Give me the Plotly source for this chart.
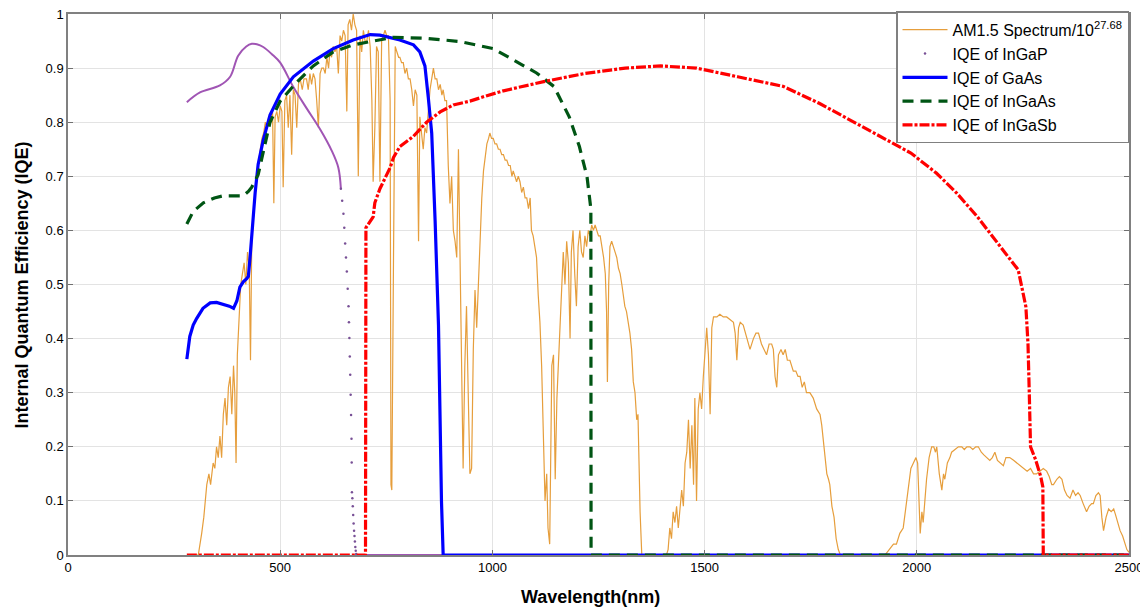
import plotly.graph_objects as go

# ---------------- data ----------------
am15_wl = [300, 307, 315, 320, 327, 332, 336, 342, 346, 350, 354, 358, 362, 366, 370, 374, 378, 382, 386, 390,
           393, 396, 399, 403, 407, 411, 415, 419, 423, 427, 430, 433, 437, 441, 445, 449, 453, 457, 461, 465,
           469, 473, 478, 482, 485, 488, 492, 496, 500, 504, 507, 511, 515, 519, 523, 527, 531, 535, 539, 543,
           547, 552, 556, 562, 566, 570, 574, 578, 582, 586, 590, 594, 598, 602, 606, 610, 614, 617, 621, 625,
           629, 633, 637, 641, 645, 649, 653, 657, 660, 664, 668, 672, 676, 680, 684, 688, 692, 696, 700, 704,
           708, 712, 716, 719, 723, 727, 731, 735, 739, 743, 747, 751, 755, 759, 761, 763, 765, 767, 771, 775,
           779, 782, 786, 790, 794, 798, 802, 806, 810, 814, 818, 822, 826, 829, 833, 837, 841, 845, 849, 853,
           857, 861, 865, 869, 873, 877, 881, 884, 888, 892, 896, 900, 904, 908, 912, 916, 920, 924, 927, 931,
           935, 939, 943, 947, 951, 955, 959, 963, 967, 971, 975, 979, 983, 987, 991, 994, 998, 1002, 1006, 1010,
           1014, 1018, 1022, 1026, 1030, 1034, 1038, 1042, 1046, 1049, 1053, 1057, 1061, 1065, 1069, 1073, 1077, 1081, 1085, 1089,
           1092, 1096, 1100, 1104, 1108, 1112, 1116, 1120, 1124, 1128, 1131, 1135, 1138, 1140, 1144, 1148, 1152, 1155, 1159, 1163,
           1167, 1171, 1175, 1179, 1183, 1186, 1190, 1194, 1198, 1202, 1206, 1210, 1214, 1218, 1222, 1226, 1230, 1234, 1238, 1242,
           1246, 1250, 1254, 1258, 1262, 1266, 1269, 1271, 1274, 1277, 1281, 1285, 1289, 1293, 1297, 1301, 1305, 1309, 1312, 1316,
           1320, 1324, 1328, 1332, 1336, 1340, 1343, 1346, 1348, 1352, 1410, 1414, 1418, 1422, 1426, 1430, 1434, 1438, 1442, 1446,
           1450, 1454, 1458, 1462, 1466, 1470, 1474, 1477, 1481, 1485, 1489, 1493, 1497, 1501, 1505, 1509, 1513, 1517, 1521, 1525,
           1529, 1536, 1544, 1552, 1560, 1568, 1572, 1576, 1580, 1584, 1591, 1599, 1607, 1615, 1621, 1627, 1634, 1640, 1646, 1652,
           1658, 1662, 1666, 1670, 1674, 1680, 1685, 1690, 1695, 1701, 1705, 1709, 1715, 1720, 1725, 1730, 1735, 1740, 1748, 1756,
           1764, 1772, 1776, 1780, 1784, 1788, 1792, 1795, 1800, 1805, 1810, 1815, 1820, 1925, 1935, 1945, 1952, 1960, 1968, 1974,
           1980, 1986, 1992, 1998, 2002, 2005, 2008, 2012, 2015, 2019, 2023, 2029, 2035, 2040, 2044, 2047, 2053, 2059, 2063, 2066,
           2072, 2078, 2082, 2090, 2098, 2106, 2112, 2118, 2125, 2132, 2139, 2145, 2152, 2158, 2165, 2172, 2178, 2184, 2190, 2196,
           2204, 2210, 2219, 2228, 2236, 2244, 2251, 2260, 2268, 2275, 2282, 2290, 2298, 2306, 2312, 2318, 2322, 2330, 2336, 2342,
           2348, 2354, 2361, 2368, 2374, 2380, 2385, 2392, 2400, 2406, 2412, 2416, 2422, 2428, 2432, 2436, 2440, 2446, 2452, 2458,
           2464, 2468, 2474, 2479, 2485, 2490, 2495, 2500]
am15_val = [0.0, 0.0, 0.04, 0.07, 0.13, 0.15, 0.13, 0.17, 0.16, 0.20, 0.18, 0.22, 0.18, 0.26, 0.29, 0.24, 0.31, 0.33, 0.26, 0.35,
            0.30, 0.17, 0.37, 0.45, 0.50, 0.52, 0.54, 0.50, 0.56, 0.53, 0.36, 0.58, 0.63, 0.67, 0.70, 0.73, 0.75, 0.77, 0.78, 0.80,
            0.79, 0.81, 0.80, 0.82, 0.65, 0.81, 0.82, 0.80, 0.83, 0.82, 0.68, 0.84, 0.85, 0.79, 0.85, 0.74, 0.86, 0.85, 0.79, 0.87,
            0.88, 0.86, 0.88, 0.88, 0.86, 0.89, 0.87, 0.89, 0.88, 0.84, 0.79, 0.89, 0.90, 0.90, 0.89, 0.92, 0.90, 0.93, 0.92, 0.94,
            0.93, 0.94, 0.89, 0.96, 0.95, 0.97, 0.96, 0.82, 0.98, 0.99, 0.97, 1.00, 0.98, 0.97, 0.70, 0.96, 0.93, 0.97, 0.95, 0.95,
            0.97, 0.94, 0.84, 0.69, 0.79, 0.94, 0.93, 0.69, 0.95, 0.96, 0.97, 0.96, 0.96, 0.84, 0.13, 0.12, 0.45, 0.55, 0.94, 0.93,
            0.92, 0.92, 0.91, 0.91, 0.89, 0.90, 0.88, 0.88, 0.86, 0.83, 0.86, 0.85, 0.58, 0.81, 0.78, 0.75, 0.79, 0.78, 0.82, 0.86,
            0.88, 0.90, 0.88, 0.88, 0.86, 0.87, 0.85, 0.86, 0.84, 0.84, 0.72, 0.65, 0.70, 0.60, 0.58, 0.55, 0.75, 0.52, 0.30, 0.16,
            0.35, 0.46, 0.30, 0.15, 0.16, 0.38, 0.49, 0.42, 0.50, 0.59, 0.66, 0.71, 0.74, 0.76, 0.77, 0.78, 0.77, 0.77, 0.76, 0.76,
            0.75, 0.75, 0.74, 0.74, 0.73, 0.73, 0.72, 0.72, 0.70, 0.71, 0.70, 0.69, 0.70, 0.69, 0.67, 0.68, 0.66, 0.66, 0.64, 0.66,
            0.60, 0.59, 0.57, 0.55, 0.48, 0.43, 0.35, 0.23, 0.10, 0.15, 0.05, 0.02, 0.20, 0.35, 0.37, 0.14, 0.29, 0.35, 0.40, 0.48,
            0.56, 0.50, 0.58, 0.54, 0.40, 0.56, 0.60, 0.52, 0.46, 0.57, 0.60, 0.56, 0.55, 0.59, 0.57, 0.60, 0.59, 0.61, 0.60, 0.61,
            0.60, 0.59, 0.59, 0.57, 0.55, 0.52, 0.45, 0.32, 0.50, 0.57, 0.58, 0.57, 0.56, 0.55, 0.53, 0.52, 0.50, 0.48, 0.46, 0.45,
            0.43, 0.41, 0.38, 0.32, 0.30, 0.25, 0.26, 0.15, 0.08, 0.0, 0.0, 0.01, 0.05, 0.03, 0.08, 0.06, 0.09, 0.05, 0.08, 0.12,
            0.09, 0.17, 0.19, 0.25, 0.16, 0.24, 0.13, 0.29, 0.10, 0.27, 0.30, 0.27, 0.33, 0.38, 0.42, 0.37, 0.26, 0.42, 0.44, 0.44,
            0.44, 0.445, 0.44, 0.44, 0.435, 0.43, 0.41, 0.36, 0.42, 0.43, 0.425, 0.40, 0.38, 0.40, 0.41, 0.41, 0.39, 0.38, 0.37, 0.39,
            0.39, 0.38, 0.33, 0.31, 0.37, 0.38, 0.37, 0.38, 0.36, 0.36, 0.35, 0.34, 0.34, 0.33, 0.33, 0.31, 0.32, 0.30, 0.30, 0.29,
            0.27, 0.26, 0.24, 0.21, 0.19, 0.15, 0.14, 0.13, 0.09, 0.07, 0.03, 0.01, 0.0, 0.0, 0.01, 0.02, 0.02, 0.04, 0.05, 0.09,
            0.13, 0.16, 0.17, 0.18, 0.17, 0.10, 0.04, 0.08, 0.06, 0.10, 0.14, 0.18, 0.20, 0.20, 0.19, 0.20, 0.15, 0.12, 0.15, 0.14,
            0.17, 0.18, 0.19, 0.195, 0.20, 0.20, 0.195, 0.20, 0.20, 0.195, 0.20, 0.20, 0.19, 0.185, 0.18, 0.175, 0.18, 0.19, 0.175, 0.17,
            0.165, 0.18, 0.18, 0.175, 0.17, 0.165, 0.16, 0.155, 0.16, 0.15, 0.15, 0.155, 0.16, 0.155, 0.145, 0.13, 0.13, 0.14, 0.145, 0.14,
            0.12, 0.11, 0.105, 0.12, 0.11, 0.115, 0.11, 0.095, 0.08, 0.09, 0.095, 0.095, 0.11, 0.115, 0.11, 0.07, 0.045, 0.07, 0.085, 0.08,
            0.085, 0.075, 0.06, 0.045, 0.035, 0.02, 0.01, 0.005]

ingap_wl = [280, 311, 358, 382, 401, 420, 433, 445, 460, 480, 500, 531, 562, 594, 621, 637, 643]
ingap_val = [0.837, 0.855, 0.868, 0.884, 0.923, 0.940, 0.945, 0.944, 0.939, 0.926, 0.910, 0.865, 0.826, 0.787, 0.748, 0.716, 0.677]
ingap_dot_wl = [643, 646, 649, 651, 653, 655, 657, 659, 661, 662, 663, 664, 665, 666, 667, 668, 668.5, 669, 670, 671, 672, 673, 674, 675, 676, 677, 678, 679]
ingap_dot_val = [0.677, 0.655, 0.631, 0.605, 0.576, 0.550, 0.524, 0.492, 0.460, 0.430, 0.401, 0.367, 0.333, 0.296, 0.259, 0.215, 0.171, 0.116,
                 0.105, 0.090, 0.074, 0.058, 0.045, 0.035, 0.025, 0.015, 0.008, 0.002]
ingap_tail_wl = [679, 2500]
ingap_tail_val = [0.0, 0.0]

gaas_wl = [280, 287, 295, 303, 318, 335, 350, 366, 380, 390, 398, 405, 413, 421, 425, 429, 433, 437, 441, 448,
           460, 476, 500, 531, 578, 625, 672, 712, 735, 782, 814, 829, 841, 849, 857, 865, 873, 880, 884, 2500]
gaas_val = [0.362, 0.404, 0.425, 0.437, 0.456, 0.466, 0.467, 0.464, 0.460, 0.456, 0.470, 0.495, 0.505, 0.511, 0.515, 0.550, 0.592, 0.635, 0.670, 0.722,
            0.767, 0.813, 0.852, 0.884, 0.913, 0.936, 0.952, 0.962, 0.961, 0.952, 0.943, 0.930, 0.904, 0.845, 0.780, 0.618, 0.424, 0.100, 0.0, 0.0]

ingaas_wl = [280, 295, 319, 345, 366, 390, 413, 425, 433, 448, 460, 476, 500, 539, 578, 625, 672, 719, 767, 845,
             924, 1002, 1049, 1104, 1145, 1181, 1205, 1223, 1232, 1232.5, 2500]
ingaas_val = [0.612, 0.635, 0.651, 0.660, 0.664, 0.664, 0.664, 0.672, 0.680, 0.703, 0.742, 0.800, 0.839, 0.874, 0.904, 0.930, 0.943, 0.950, 0.957, 0.955,
              0.949, 0.936, 0.915, 0.891, 0.866, 0.810, 0.755, 0.699, 0.640, 0.0, 0.0]

ingasb_wl = [280, 701, 702, 712, 719, 723, 735, 759, 767, 782, 814, 845, 877, 908, 947, 987, 1026, 1065, 1121, 1217,
             1313, 1397, 1481, 1578, 1686, 1770, 1842, 1914, 1986, 2046, 2094, 2143, 2191, 2239, 2257, 2262, 2265, 2268, 2280, 2292,
             2297, 2298, 2500]
ingasb_val = [0.0, 0.0, 0.605, 0.618, 0.625, 0.651, 0.677, 0.716, 0.735, 0.755, 0.774, 0.800, 0.819, 0.832, 0.839, 0.849, 0.858, 0.865, 0.875, 0.890,
              0.900, 0.904, 0.900, 0.884, 0.866, 0.835, 0.804, 0.773, 0.743, 0.706, 0.669, 0.625, 0.576, 0.527, 0.459, 0.391, 0.300, 0.200, 0.176, 0.145,
              0.126, 0.0, 0.0]

x_ticks = [0, 500, 1000, 1500, 2000, 2500]
y_ticks = [0, 0.1, 0.2, 0.3, 0.4, 0.5, 0.6, 0.7, 0.8, 0.9, 1]
y_ticktext = ["0", "0.1", "0.2", "0.3", "0.4", "0.5", "0.6", "0.7", "0.8", "0.9", "1"]
x_title = "Wavelength(nm)"
y_title = "Internal Quantum Efficiency (IQE)"

# ---------------- figure ----------------
FONT = "Liberation Sans, Arial, sans-serif"
fig = go.Figure()

fig.add_trace(go.Scatter(x=am15_wl, y=am15_val, mode="lines", name="AM1.5 Spectrum/10<sup>27.68</sup>",
                         line=dict(color="rgb(230,158,60)", width=1.2)))
fig.add_trace(go.Scatter(x=ingap_wl, y=ingap_val, mode="lines", showlegend=False, legendgroup="ingap",
                         line=dict(color="rgb(160,85,180)", width=2, shape="spline")))
fig.add_trace(go.Scatter(x=ingap_tail_wl, y=ingap_tail_val, mode="lines", showlegend=False, legendgroup="ingap",
                         line=dict(color="rgb(160,85,180)", width=2)))
fig.add_trace(go.Scatter(x=ingap_dot_wl, y=ingap_dot_val, mode="markers", name="IQE of InGaP", legendgroup="ingap",
                         marker=dict(color="rgb(120,80,150)", size=2.5)))
fig.add_trace(go.Scatter(x=gaas_wl, y=gaas_val, mode="lines", name="IQE of GaAs",
                         line=dict(color="#0000FF", width=3.2)))
fig.add_trace(go.Scatter(x=ingaas_wl, y=ingaas_val, mode="lines", name="IQE of InGaAs",
                         line=dict(color="rgb(0,85,20)", width=3.2, dash="11px,7px")))
fig.add_trace(go.Scatter(x=ingasb_wl, y=ingasb_val, mode="lines", name="IQE of InGaSb",
                         line=dict(color="#FF0000", width=3.2, dash="10px,2px,3px,2px")))

axis_common = dict(showgrid=True, gridcolor="#E3E3E3", gridwidth=1, showline=True, linecolor="#808080",
                   linewidth=1.5, mirror="ticks", ticks="inside", ticklen=5, tickcolor="#707070",
                   zeroline=False, automargin=False, ticklabeloverflow="allow",
                   tickfont=dict(family=FONT, size=13, color="#000000"))

fig.update_xaxes(range=[0, 2500], tickvals=x_ticks, **axis_common)
fig.update_yaxes(range=[0, 1], tickvals=y_ticks, ticktext=y_ticktext, **axis_common)

fig.add_annotation(text="<b>" + x_title + "</b>", xref="paper", yref="paper", x=0.492, y=-0.078,
                   xanchor="center", yanchor="middle", showarrow=False,
                   font=dict(family=FONT, size=18, color="#000"))
fig.add_annotation(text="<b>" + y_title + "</b>", xref="paper", yref="paper", x=-0.0434, y=0.5,
                   xanchor="center", yanchor="middle", showarrow=False, textangle=-90,
                   font=dict(family=FONT, size=18, color="#000"))

# the page body adds an 8px offset, so the figure is 8px smaller than the window
fig.update_layout(
    width=1140, height=603,
    margin=dict(l=60, r=19, t=6, b=56, autoexpand=False),
    paper_bgcolor="white", plot_bgcolor="white",
    font=dict(family=FONT, color="#000"),
    showlegend=True,
    legend=dict(x=1.0, y=1.005, xanchor="right", yanchor="top", bgcolor="white",
                bordercolor="#808080", borderwidth=1.5, font=dict(family=FONT, size=16, color="#000"),
                itemwidth=45, tracegroupgap=0),
)

fig.write_html("out.html")
